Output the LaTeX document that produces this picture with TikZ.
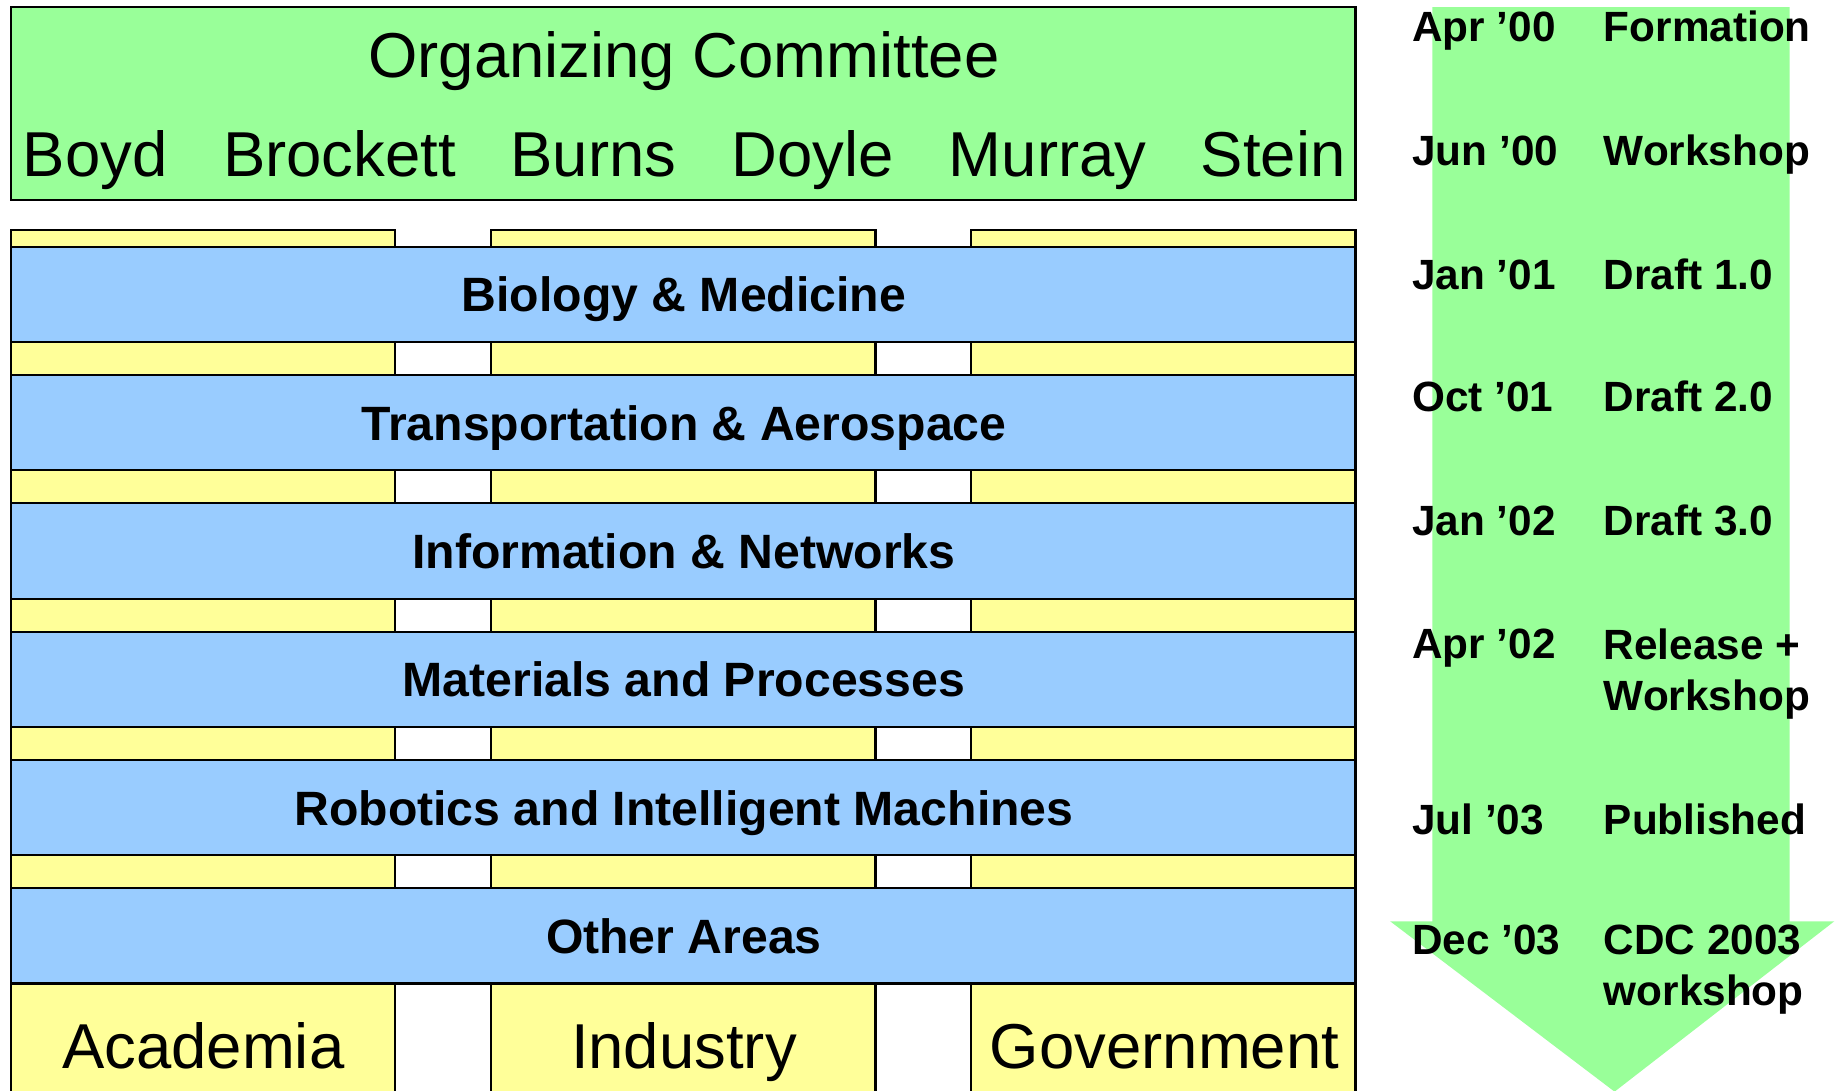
\documentclass[tikz,border=0pt]{standalone}
\usepackage{fontspec}
\setmainfont{Liberation Sans}
\definecolor{cgreen}{HTML}{99FF99}
\definecolor{cyellow}{HTML}{FFFF99}
\definecolor{cblue}{HTML}{99CCFF}
\begin{document}
\begin{tikzpicture}[x=1pt,y=-1pt, line width=1.8pt,
  box/.style={draw=black, rectangle, inner sep=0pt, outer sep=0pt, anchor=north west},
  big/.style={font=\fontsize{54}{64}\selectfont, inner sep=0pt, anchor=base},
  band/.style={box, fill=cblue, minimum width=1144pt, minimum height=81pt},
  col/.style={box, fill=cyellow, minimum width=327pt, minimum height=800pt},
  bandlabel/.style={font=\bfseries\fontsize{41}{49}\selectfont, inner sep=0pt, anchor=base},
  tl/.style={font=\bfseries\fontsize{36}{43.5}\selectfont, inner sep=0pt, anchor=base west, align=left}]
\useasboundingbox (0,0) rectangle (1565,928);
\clip (0,0) rectangle (1565,928);
% timeline arrow
\fill[cgreen] (1219,6) -- (1523,6) -- (1523,784) -- (1561,784) -- (1374,929) -- (1183,784) -- (1219,784) -- cycle;
% organizing committee
\node[box, fill=cgreen, minimum width=1144pt, minimum height=164pt] (comm) at (9.5,6) {};
\node[big] (title) at (582,66) {Organizing Committee};
\node[big] (boyd) at (81,150) {Boyd};
\node[big] (brockett) at (289,150) {Brockett};
\node[big] (burns) at (505,150) {Burns};
\node[big] (doyle) at (691.5,150) {Doyle};
\node[big] (murray) at (891.5,150) {Murray};
\node[big] (stein) at (1083.5,150) {Stein};
% columns
\node[col] (acad) at (9.5,196) {};
\node[col] (ind) at (418,196) {};
\node[col] (gov) at (826.5,196) {};
% bands
\node[band] (b1) at (9.5,210) {};
\node[band] (b2) at (9.5,319.2) {};
\node[band] (b3) at (9.5,428.4) {};
\node[band] (b4) at (9.5,537.6) {};
\node[band] (b5) at (9.5,646.8) {};
\node[band] (b6) at (9.5,756) {};
\node[bandlabel] (l1) at (582,265.5) {Biology \& Medicine};
\node[bandlabel] (l2) at (582,374.7) {Transportation \& Aerospace};
\node[bandlabel] (l3) at (582,483.9) {Information \& Networks};
\node[bandlabel] (l4) at (582,593.1) {Materials and Processes};
\node[bandlabel] (l5) at (582,702.3) {Robotics and Intelligent Machines};
\node[bandlabel] (l6) at (582,811.5) {Other Areas};
% sectors
\node[big] (acadl) at (173,909) {Academia};
\node[big] (indl) at (582,909) {Industry};
\node[big] (govl) at (991,909) {Government};
% timeline text
\node[tl] (d1) at (1201,35.5) {Apr ’00};
\node[tl] (e1) at (1364,35.5) {Formation};
\node[tl] (d2) at (1201,141) {Jun ’00};
\node[tl] (e2) at (1364,141) {Workshop};
\node[tl] (d3) at (1201,246) {Jan ’01};
\node[tl] (e3) at (1364,246) {Draft 1.0};
\node[tl] (d4) at (1201,350.5) {Oct ’01};
\node[tl] (e4) at (1364,350.5) {Draft 2.0};
\node[tl] (d5) at (1201,456) {Jan ’02};
\node[tl] (e5) at (1364,456) {Draft 3.0};
\node[tl] (d6) at (1201,560.5) {Apr ’02};
\node[tl, anchor=north west] (e6) at (1364,534.5) {Release +\\Workshop};
\node[tl] (d7) at (1201,710) {Jul ’03};
\node[tl] (e7) at (1364,710) {Published};
\node[tl] (d8) at (1201,812.5) {Dec ’03};
\node[tl, anchor=north west] (e8) at (1364,786.5) {CDC 2003\\workshop};
\end{tikzpicture}
\end{document}
